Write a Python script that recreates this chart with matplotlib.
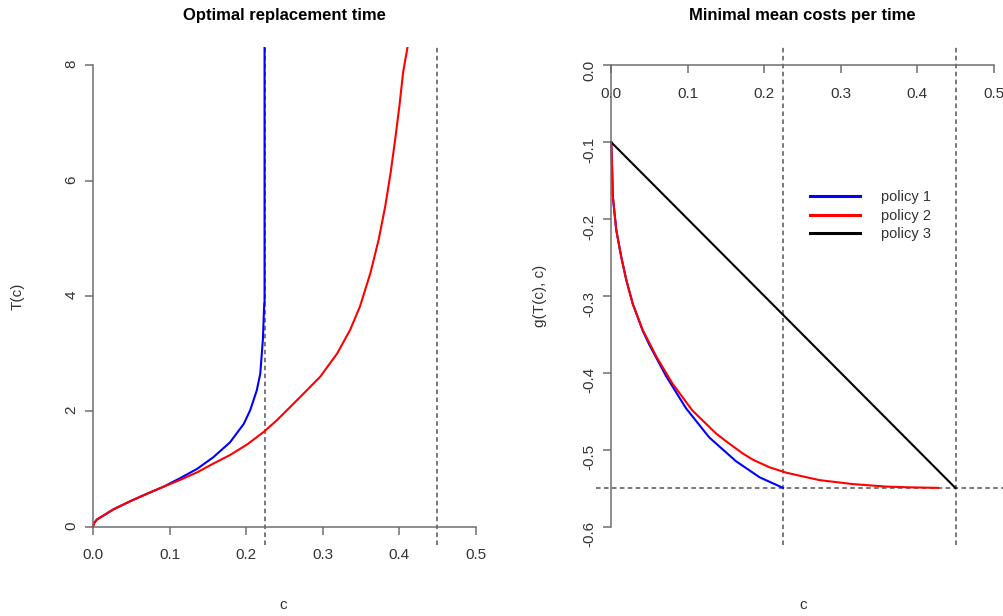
import matplotlib
matplotlib.use('Agg')
from matplotlib import pyplot as plt

plt.rcParams['font.family'] = ['Liberation Sans', 'DejaVu Sans']

# left panel: optimal replacement time T(c)
c_blue_T = [0, 0.0015, 0.005, 0.027, 0.048, 0.070, 0.092, 0.114, 0.136, 0.157,
            0.179, 0.197, 0.2055, 0.214, 0.2186, 0.222, 0.2238, 0.2242, 0.2242]
T_blue = [0, 0.06, 0.12, 0.30, 0.435, 0.565, 0.69, 0.84, 1.00, 1.20,
          1.46, 1.78, 2.02, 2.36, 2.65, 3.24, 3.87, 3.9, 50]
c_red_T = [0, 0.0015, 0.005, 0.027, 0.048, 0.070, 0.092, 0.114, 0.136, 0.157,
           0.179, 0.201, 0.223, 0.240, 0.271, 0.297, 0.319, 0.336, 0.349,
           0.3626, 0.3734, 0.382, 0.389, 0.395, 0.4005, 0.4053, 0.4114]
T_red = [0, 0.06, 0.12, 0.30, 0.435, 0.565, 0.69, 0.81, 0.94, 1.09,
         1.24, 1.42, 1.64, 1.84, 2.25, 2.60, 3.0, 3.41, 3.82,
         4.40, 4.98, 5.56, 6.14, 6.72, 7.30, 7.88, 8.34]

# right panel: minimal mean costs per time g(T(c), c)
c_blue_g = [0, 0.001, 0.002, 0.0065, 0.013, 0.0196, 0.028, 0.041, 0.050,
            0.0715, 0.0976, 0.128, 0.163, 0.194, 0.2245]
g_blue = [-0.1, -0.131, -0.170, -0.214, -0.249, -0.279, -0.310, -0.345, -0.364,
          -0.404, -0.446, -0.484, -0.515, -0.536, -0.5497]
c_red_g = [0, 0.001, 0.002, 0.0065, 0.013, 0.0196, 0.028, 0.041, 0.059,
           0.080, 0.106, 0.137, 0.150, 0.172, 0.185, 0.207, 0.229, 0.272,
           0.316, 0.359, 0.390, 0.427]
g_red = [-0.1, -0.131, -0.170, -0.214, -0.249, -0.279, -0.310, -0.344, -0.379,
         -0.414, -0.449, -0.479, -0.489, -0.505, -0.513, -0.523, -0.530, -0.5396,
         -0.5448, -0.548, -0.549, -0.5497]
c_black_g = [0, 0.45]
g_black = [-0.1, -0.55]

c_crit = [0.225, 0.45]
g_min = -0.55

axis_col = '#6e6e6e'
text_col = '#333333'
dash = (0, (3, 2.2))

fig = plt.figure(figsize=(10.04, 6.16), dpi=100)
ax1 = fig.add_axes([0.0774, 0.1153, 0.4115, 0.8084])
ax2 = fig.add_axes([0.5936, 0.1153, 0.4115, 0.8084])

for ax in (ax1, ax2):
    ax.spines['top'].set_visible(False)
    ax.spines['right'].set_visible(False)
    ax.spines['left'].set_position(('data', 0))
    ax.spines['bottom'].set_position(('data', 0))
    for s in ('left', 'bottom'):
        ax.spines[s].set_color(axis_col)
        ax.spines[s].set_linewidth(1.1)
    ax.tick_params(axis='both', colors=axis_col, labelcolor=text_col,
                   labelsize=11, length=5.5, width=1.1)
    ax.tick_params(axis='x', pad=10)
    ax.tick_params(axis='y', pad=5, labelrotation=90)
    ax.set_xlim(-0.02, 0.52)
    ax.set_xticks([0, 0.1, 0.2, 0.3, 0.4, 0.5])
    ax.set_xticklabels(['0.0', '0.1', '0.2', '0.3', '0.4', '0.5'])
    ax.spines['bottom'].set_bounds(0, 0.5)
    for cc in c_crit:
        ax.axvline(cc, color='#555555', lw=1.1, ls=dash)

# left
ax1.set_ylim(-0.32, 8.32)
ax1.set_yticks([0, 2, 4, 6, 8])
ax1.spines['left'].set_bounds(0, 8)
ax1.plot(c_blue_T, T_blue, color='blue', lw=1.5)
ax1.plot(c_red_T, T_red, color='red', lw=1.5)
ax1.text(0.5, 1.064, 'Optimal replacement time', transform=ax1.transAxes,
         ha='center', va='center', fontsize=12, fontweight='bold')
ax1.set_xlabel('c', fontsize=11, color=text_col)
ax1.xaxis.set_label_coords(0.497, -0.12)
ax1.xaxis.label.set_va('center')
ax1.set_ylabel('T(c)', fontsize=11, color=text_col)
ax1.yaxis.set_label_coords(-0.1446, 0.5)
ax1.yaxis.label.set_va('center')

# right
ax2.set_ylim(-0.624, 0.024)
ax2.set_yticks([0, -0.1, -0.2, -0.3, -0.4, -0.5, -0.6])
ax2.set_yticklabels(['0.0', '-0.1', '-0.2', '-0.3', '-0.4', '-0.5', '-0.6'])
ax2.spines['left'].set_bounds(-0.6, 0)
ax2.axhline(g_min, color='#555555', lw=1.1, ls=dash)
ax2.plot(c_blue_g, g_blue, color='blue', lw=1.5, label='policy 1')
ax2.plot(c_red_g, g_red, color='red', lw=1.5, label='policy 2')
ax2.plot(c_black_g, g_black, color='black', lw=1.5, label='policy 3')
ax2.text(0.5, 1.064, 'Minimal mean costs per time', transform=ax2.transAxes,
         ha='center', va='center', fontsize=12, fontweight='bold')
ax2.set_xlabel('c', fontsize=11, color=text_col)
ax2.xaxis.set_label_coords(0.501, -0.12)
ax2.xaxis.label.set_va('center')
ax2.set_ylabel('g(T(c), c)', fontsize=11, color=text_col)
ax2.yaxis.set_label_coords(-0.1356, 0.5)
ax2.yaxis.label.set_va('center')
leg = ax2.legend(loc='upper left', bbox_to_anchor=(0.518, 0.712), frameon=False,
                 fontsize=10.5, handlelength=3.4, handletextpad=1.45,
                 labelspacing=0.3, borderpad=0, borderaxespad=0)
for t in leg.get_texts():
    t.set_color(text_col)
for h in leg.get_lines():
    h.set_linewidth(2.2)

fig.savefig('out.png', dpi=100)
